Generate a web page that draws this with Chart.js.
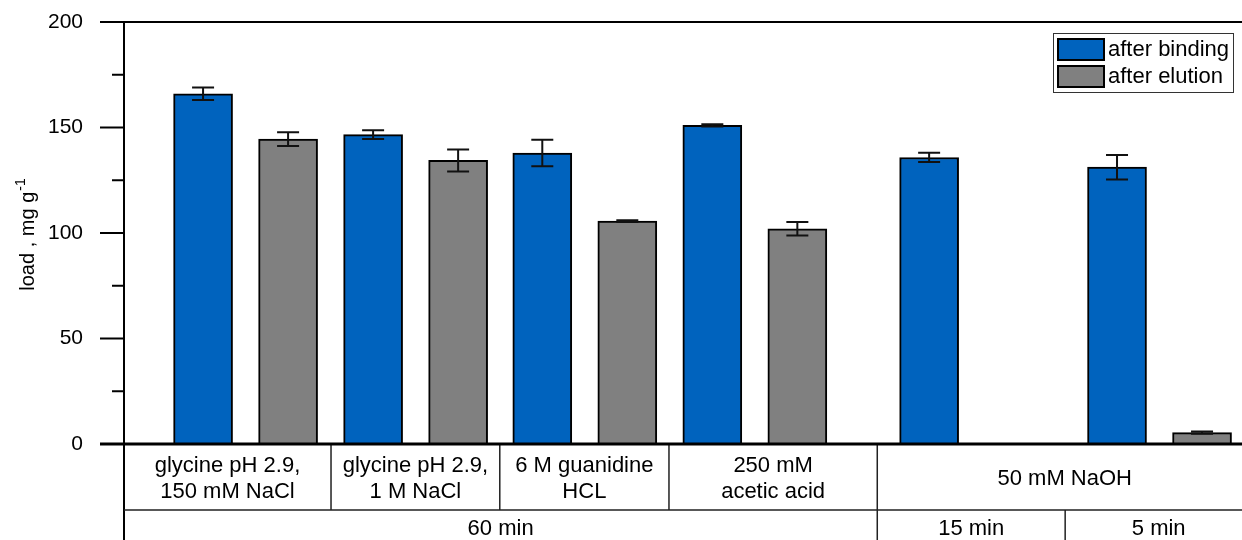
<!DOCTYPE html>
<html>
<head>
<meta charset="utf-8">
<script src="https://cdn.jsdelivr.net/npm/chart.js@4.4.0/dist/chart.umd.min.js"></script>
<style>
  html, body { margin: 0; padding: 0; background: #fff; }
</style>
</head>
<body>
<canvas id="chart1" width="1242" height="540"></canvas>
<script>
const seriesNames = ['after binding', 'after elution'];
const bindingLoad = [166, 146.6, 137.9, 151, 135.8, 131.2];
const bindingErr = [3, 2.1, 6.3, 0.5, 2.2, 5.8];
const elutionLoad = [144.5, 134.4, 105.6, 102, 0, 5.4];
const elutionErr = [3.3, 5.2, 0.4, 3.2, 0, 0.5];
const treatments = [['glycine pH 2.9,', '150 mM NaCl'], ['glycine pH 2.9,', '1 M NaCl'], ['6 M guanidine', 'HCL'], ['250 mM', 'acetic acid'], ['50 mM NaOH']];
const treatmentSpan = [1, 1, 1, 1, 2];
const times = ['60 min', '15 min', '5 min'];
const timeSpan = [4, 1, 1];

// group centres and group borders on the x axis, one unit = bar pitch
const groupPos = [1.43, 3.43, 5.42, 7.42, 9.97, 12.18];
const groupEdges = [0, 2.435, 4.42, 6.41, 8.86, 11.07, 13.27];

const FONT = "'Liberation Sans', Arial, sans-serif";
const BLUE = '#0063be';
const GREY = '#808080';

const frame = {
  id: 'frame',
  afterDatasetsDraw(chart) {
    const { ctx, scales: { y } } = chart;
    ctx.save();
    ctx.strokeStyle = '#111';
    ctx.lineWidth = 2;
    chart.data.datasets.forEach((ds, i) => {
      const meta = chart.getDatasetMeta(i);
      ds.errors.forEach((e, j) => {
        const v = ds.data[j].y;
        if (!v) return;
        const cx = meta.data[j].x;
        const t = y.getPixelForValue(v + e), b = y.getPixelForValue(v - e);
        ctx.beginPath();
        ctx.moveTo(cx, t); ctx.lineTo(cx, b);
        ctx.moveTo(cx - 11, t); ctx.lineTo(cx + 11, t);
        ctx.moveTo(cx - 11, b); ctx.lineTo(cx + 11, b);
        ctx.stroke();
      });
    });
    ctx.restore();
  },
  afterDraw(chart) {
    const { ctx, chartArea: a, scales: { x, y } } = chart;
    const W = chart.width, H = chart.height;
    const rowY = 510;
    ctx.save();
    ctx.strokeStyle = '#000';

    // frame lines
    ctx.lineWidth = 2;
    ctx.beginPath();
    ctx.moveTo(a.left - 24, a.top); ctx.lineTo(W, a.top);
    ctx.moveTo(a.left, a.top); ctx.lineTo(a.left, H);
    ctx.stroke();

    // y ticks, major every 50, minor every 25
    for (let v = 0; v <= 200; v += 25) {
      const py = y.getPixelForValue(v);
      const len = v % 50 === 0 ? 24 : 12;
      ctx.beginPath();
      ctx.moveTo(a.left - len, py); ctx.lineTo(a.left, py);
      ctx.stroke();
    }

    // table under the axis
    ctx.strokeStyle = '#222';
    ctx.lineWidth = 1.5;
    ctx.beginPath();
    ctx.moveTo(a.left, rowY); ctx.lineTo(W, rowY);
    let k = 0;
    treatmentSpan.forEach(s => {
      k += s;
      const px = x.getPixelForValue(groupEdges[k]);
      ctx.moveTo(px, a.bottom); ctx.lineTo(px, rowY);
    });
    k = 0;
    timeSpan.forEach(s => {
      k += s;
      const px = x.getPixelForValue(groupEdges[k]);
      ctx.moveTo(px, rowY); ctx.lineTo(px, H);
    });
    ctx.stroke();

    // x axis line
    ctx.strokeStyle = '#000';
    ctx.lineWidth = 3;
    ctx.beginPath();
    ctx.moveTo(a.left - 24, a.bottom); ctx.lineTo(W, a.bottom);
    ctx.stroke();

    ctx.fillStyle = '#000';
    ctx.textAlign = 'center';
    ctx.textBaseline = 'middle';
    ctx.font = '22px ' + FONT;
    k = 0;
    treatments.forEach((lines, i) => {
      const cx = (x.getPixelForValue(groupEdges[k]) + x.getPixelForValue(groupEdges[k + treatmentSpan[i]])) / 2;
      k += treatmentSpan[i];
      if (lines.length === 1) {
        ctx.fillText(lines[0], cx, 479);
      } else {
        ctx.fillText(lines[0], cx, 466);
        ctx.fillText(lines[1], cx, 492);
      }
    });
    k = 0;
    times.forEach((t, i) => {
      const cx = (x.getPixelForValue(groupEdges[k]) + x.getPixelForValue(groupEdges[k + timeSpan[i]])) / 2;
      k += timeSpan[i];
      ctx.fillText(t, cx, 529);
    });

    // y axis title with superscript
    ctx.save();
    ctx.translate(34, 235);
    ctx.rotate(-Math.PI / 2);
    ctx.textAlign = 'left';
    ctx.textBaseline = 'alphabetic';
    const main = 'load , mg g', sup = '-1';
    ctx.font = '20px ' + FONT;
    const mw = ctx.measureText(main).width;
    ctx.font = '14px ' + FONT;
    const sw = ctx.measureText(sup).width;
    const x0 = -(mw + sw) / 2;
    ctx.font = '20px ' + FONT;
    ctx.fillText(main, x0, 0);
    ctx.font = '14px ' + FONT;
    ctx.fillText(sup, x0 + mw + 1, -9);
    ctx.restore();

    // legend
    const lx = 1053, ly = 33;
    ctx.lineWidth = 1;
    ctx.strokeStyle = '#333';
    ctx.strokeRect(lx + 0.5, ly + 0.5, 180, 59);
    ctx.font = '22px ' + FONT;
    ctx.textAlign = 'left';
    ctx.textBaseline = 'middle';
    chart.data.datasets.forEach((ds, i) => {
      const sy = ly + 5 + i * 27;
      ctx.fillStyle = ds.backgroundColor;
      ctx.fillRect(lx + 4, sy, 48, 23);
      ctx.lineWidth = 2;
      ctx.strokeStyle = '#000';
      ctx.strokeRect(lx + 5, sy + 1, 46, 21);
      ctx.fillStyle = '#000';
      ctx.fillText(ds.label, lx + 55, sy + 12);
    });
    ctx.restore();
  }
};

new Chart(document.getElementById('chart1'), {
  type: 'bar',
  data: {
    datasets: [
      {
        label: seriesNames[0],
        data: groupPos.map((p, i) => ({ x: p - 0.5, y: bindingLoad[i] })),
        errors: bindingErr,
        backgroundColor: BLUE
      },
      {
        label: seriesNames[1],
        data: groupPos.map((p, i) => ({ x: p + 0.5, y: elutionLoad[i] })),
        errors: elutionErr,
        backgroundColor: GREY
      }
    ]
  },
  options: {
    responsive: false,
    animation: false,
    devicePixelRatio: 1,
    datasets: {
      bar: { grouped: false, barThickness: 59, borderColor: '#000', borderWidth: 2 }
    },
    layout: { padding: { top: 22, bottom: 96, left: 0, right: 0 } },
    scales: {
      x: { type: 'linear', display: false, offset: false, min: 0, max: 13.15 },
      y: {
        min: 0,
        max: 200,
        afterFit(s) { s.width = 124; s.paddingTop = 0; s.paddingBottom = 0; },
        grid: { display: false, drawTicks: false },
        border: { display: false },
        ticks: { stepSize: 50, padding: 41, color: '#000', font: { size: 21, family: FONT } }
      }
    },
    plugins: {
      legend: { display: false },
      tooltip: { enabled: false }
    }
  },
  plugins: [frame]
});
</script>
</body>
</html>
